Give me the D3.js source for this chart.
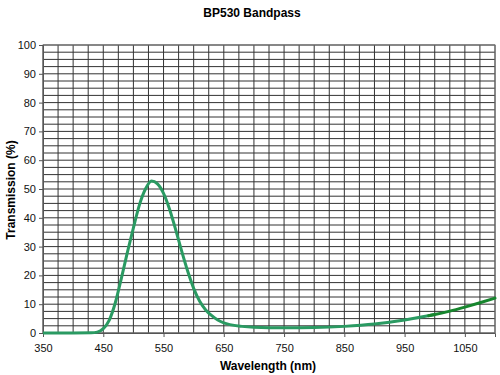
<!DOCTYPE html>
<html lang="en">
<head>
  <meta charset="UTF-8">
  <title>BP530 Bandpass</title>
  <script type="text/javascript" src="https://cdn.jsdelivr.net/npm/d3@7/dist/d3.min.js"></script>
  <style>
    body { margin: 0; background: #fff; }
    text { font-family: "Liberation Sans", Arial, sans-serif; }
  </style>
</head>
<body>
<div id="chart"></div>
<script type="text/javascript">
    // curve
    let wavelength = [350, 400, 430, 440, 450, 460, 470, 480, 490, 500, 510, 520, 530, 540, 550, 560, 570, 580,
        590, 600, 610, 620, 630, 640, 650, 660, 680, 700, 750, 800, 850, 900, 950, 1000];
    let transmission = [0, 0, 0.05, 0.3, 1.5, 4.5, 10.5, 19, 28, 36.5, 44.5, 50, 52.8, 51.8, 48.5, 43, 36, 28.5,
        21.5, 15.5, 11, 8, 6, 4.5, 3.5, 2.9, 2.3, 2.0, 1.8, 1.9, 2.3, 3.1, 4.5, 6.4];
    // tail drawn in the darker green
    let tailWavelength = [990, 1000, 1025, 1050, 1075, 1100];
    let tailTransmission = [6.0, 6.4, 7.6, 9.0, 10.5, 12.1];

    let xTicks = [350, 450, 550, 650, 750, 850, 950, 1050];
    let yTicks = [0, 10, 20, 30, 40, 50, 60, 70, 80, 90, 100];

    let width = 500, height = 375;
    let margin = {left: 43, right: 5, top: 45, bottom: 42};

    let svg = d3.select("#chart").append("svg").attr("width", width).attr("height", height);

    let x = d3.scaleLinear().domain([350, 1100]).range([margin.left, width - margin.right]);
    let y = d3.scaleLinear().domain([0, 100]).range([height - margin.bottom, margin.top]);

    // grid
    let grid = svg.append("g").attr("stroke", "#333").attr("stroke-width", 1);
    grid.selectAll("line.h").data(d3.range(0, 100.01, 2.5)).enter().append("line")
        .attr("x1", x(350)).attr("x2", x(1100))
        .attr("y1", d => y(d)).attr("y2", d => y(d));
    grid.selectAll("line.v").data(d3.range(350, 1100.01, 25)).enter().append("line")
        .attr("y1", y(0)).attr("y2", y(100))
        .attr("x1", d => x(d)).attr("x2", d => x(d));

    svg.append("rect").attr("x", x(350)).attr("y", y(100))
        .attr("width", x(1100) - x(350)).attr("height", y(0) - y(100))
        .attr("fill", "none").attr("stroke", "#777");

    // axes
    let xAxis = svg.append("g").attr("transform", "translate(0," + y(0) + ")")
        .call(d3.axisBottom(x).tickValues(xTicks).tickSize(4).tickPadding(7).tickFormat(d3.format("d")));
    let yAxis = svg.append("g").attr("transform", "translate(" + x(350) + ",0)")
        .call(d3.axisLeft(y).tickValues(yTicks).tickSize(4).tickPadding(3));
    [xAxis, yAxis].forEach(a => {
        a.select(".domain").attr("stroke", "#555");
        a.selectAll(".tick line").attr("stroke", "#555");
        a.selectAll("text").attr("font-size", 11).attr("fill", "#111")
            .attr("font-family", "Liberation Sans, Arial, sans-serif");
    });

    // curve
    let line = d3.line().x(d => x(d[0])).y(d => y(d[1])).curve(d3.curveMonotoneX);
    svg.append("path").datum(d3.zip(wavelength, transmission))
        .attr("d", line).attr("fill", "none").attr("stroke", "#2a9a62").attr("stroke-width", 3)
        .attr("stroke-linejoin", "round");
    svg.append("path").datum(d3.zip(tailWavelength, tailTransmission))
        .attr("d", line).attr("fill", "none").attr("stroke", "#17862e").attr("stroke-width", 3)
        .attr("stroke-linecap", "round");

    // titles
    svg.append("text").attr("x", 252).attr("y", 17).attr("text-anchor", "middle")
        .attr("font-size", 12).attr("font-weight", "bold").text("BP530 Bandpass");
    svg.append("text").attr("x", 268).attr("y", 370).attr("text-anchor", "middle")
        .attr("font-size", 12).attr("font-weight", "bold").text("Wavelength (nm)");
    svg.append("text").attr("transform", "translate(15,190) rotate(-90)").attr("text-anchor", "middle")
        .attr("font-size", 12).attr("font-weight", "bold").text("Transmission (%)");
</script>
</body>
</html>
